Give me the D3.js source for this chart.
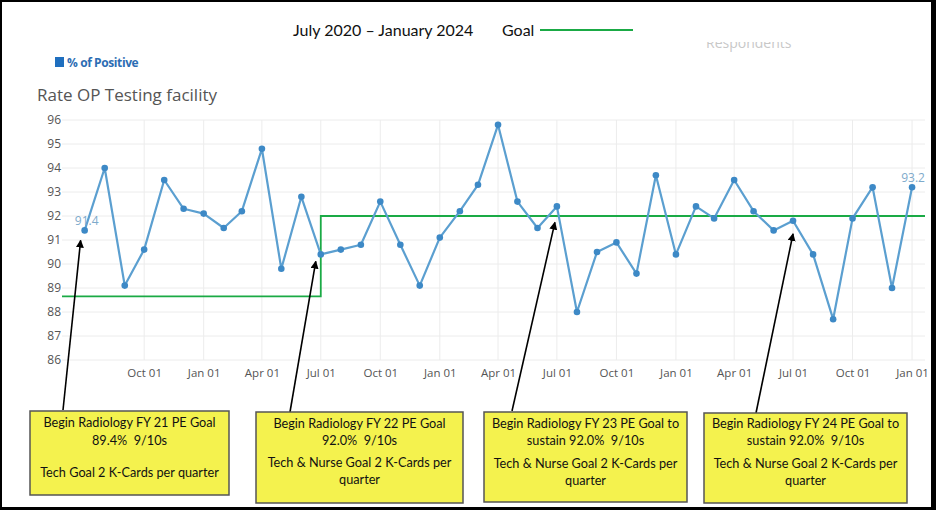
<!DOCTYPE html>
<html>
<head>
<meta charset="utf-8">
<script src="https://cdn.jsdelivr.net/npm/d3@7/dist/d3.min.js"></script>
<style>
  html, body { margin: 0; padding: 0; background: #fff; }
  svg { display: block; }
  text { white-space: pre; }
</style>
</head>
<body>
<svg id="chart" width="936" height="510"></svg>
<script>
// ---------------- DATA ----------------
const months = [
  "2020-07","2020-08","2020-09","2020-10","2020-11","2020-12",
  "2021-01","2021-02","2021-03","2021-04","2021-05","2021-06",
  "2021-07","2021-08","2021-09","2021-10","2021-11","2021-12",
  "2022-01","2022-02","2022-03","2022-04","2022-05","2022-06",
  "2022-07","2022-08","2022-09","2022-10","2022-11","2022-12",
  "2023-01","2023-02","2023-03","2023-04","2023-05","2023-06",
  "2023-07","2023-08","2023-09","2023-10","2023-11","2023-12",
  "2024-01"
];
const positiveRate = [
  91.4, 94.0, 89.1, 90.6, 93.5, 92.3,
  92.1, 91.5, 92.2, 94.8, 89.8, 92.8,
  90.4, 90.6, 90.8, 92.6, 90.8, 89.1,
  91.1, 92.2, 93.3, 95.8, 92.6, 91.5,
  92.4, 88.0, 90.5, 90.9, 89.6, 93.7,
  90.4, 92.4, 91.9, 93.5, 92.2, 91.4,
  91.8, 90.4, 87.7, 91.9, 93.2, 89.0,
  93.2
];
const goalDates = ["2020-05-27", "2021-07-01", "2024-01-21"];
const goalValues = [88.65, 92.0, 92.0];

const xTickLabels = ["2020-10","2021-01","2021-04","2021-07","2021-10","2022-01","2022-04",
                     "2022-07","2022-10","2023-01","2023-04","2023-07","2023-10","2024-01"];
const yTickValues = [86, 87, 88, 89, 90, 91, 92, 93, 94, 95, 96];
const labeledPoints = [0, 42];

const headerText = "July 2020 \u2013 January 2024";
const goalLabel = "Goal";
const legendLabel = "% of Positive";
const chartTitle = "Rate OP Testing facility";

const noteLines = [
  ["Begin Radiology FY 21 PE Goal", "89.4%  9/10s", "", "Tech Goal 2 K-Cards per quarter"],
  ["Begin Radiology FY 22 PE Goal", "92.0%  9/10s", "Tech & Nurse Goal 2 K-Cards per", "quarter"],
  ["Begin Radiology FY 23 PE Goal to", "sustain 92.0%  9/10s", "Tech & Nurse Goal 2 K-Cards per", "quarter"],
  ["Begin Radiology FY 24 PE Goal to", "sustain 92.0%  9/10s", "Tech & Nurse Goal 2 K-Cards per", "quarter"]
];
const noteTargets = [0, 12, 24, 36]; // index into months

// ---------------- LAYOUT ----------------
const W = 936, H = 510;
const plot = { left: 62, right: 925, top: 120, bottom: 360 };
const xDomain = ["2020-05-27", "2024-01-21"];
const noteBoxes = [
  { x: 30,  y: 411, w: 199, h: 84, lineY: [423, 441, 457, 473] },
  { x: 256, y: 412, w: 207, h: 91, lineY: [424, 441, 463, 480] },
  { x: 484, y: 412, w: 203, h: 90, lineY: [424, 441, 464, 481] },
  { x: 704, y: 413, w: 203, h: 90, lineY: [424, 441, 464, 481] }
];
const arrowBase = [[63, 410], [290, 412], [512, 411], [756, 413]];
const arrowTipOffset = [[-4, 10], [-5, 7], [-2, 16], [0, 13]];

const parseM = d3.timeParse("%Y-%m");
const parseD = d3.timeParse("%Y-%m-%d");
const series = months.map((m, i) => ({ date: parseM(m), value: positiveRate[i] }));
const goal = goalDates.map((d, i) => ({ date: parseD(d), value: goalValues[i] }));

const svg = d3.select("#chart");

// frame: black border
svg.append("rect").attr("x", 0).attr("y", 0).attr("width", W).attr("height", H).attr("fill", "#000");
svg.append("rect").attr("x", 2).attr("y", 2).attr("width", 929).attr("height", 505).attr("fill", "#fff");

const x = d3.scaleTime().domain(xDomain.map(parseD)).range([plot.left, plot.right]);
const y = d3.scaleLinear().domain([86, 96]).range([plot.bottom, plot.top]);

// gridlines
const grid = svg.append("g");
grid.selectAll("line.h").data(yTickValues).join("line")
  .attr("x1", plot.left).attr("x2", plot.right)
  .attr("y1", d => y(d)).attr("y2", d => y(d))
  .attr("stroke", "#ececec").attr("stroke-width", 1);
const xTicks = xTickLabels.map(parseM);
grid.selectAll("line.v").data(xTicks).join("line")
  .attr("x1", d => x(d)).attr("x2", d => x(d))
  .attr("y1", plot.top).attr("y2", plot.bottom)
  .attr("stroke", "#ececec").attr("stroke-width", 1);

// axes (labels only)
const yAxis = d3.axisLeft(y).tickValues(yTickValues).tickSize(0).tickPadding(1).tickFormat(d3.format("d"));
const gy = svg.append("g").attr("transform", `translate(${plot.left},0)`).call(yAxis);
gy.select(".domain").remove();
gy.selectAll("text").attr("font-family", "'Open Sans', sans-serif").attr("font-size", 12).attr("fill", "#555");

const xAxis = d3.axisBottom(x).tickValues(xTicks).tickSize(0).tickPadding(9).tickFormat(d3.timeFormat("%b %d"));
const gx = svg.append("g").attr("transform", `translate(0,${plot.bottom})`).call(xAxis);
gx.select(".domain").remove();
gx.selectAll("text").attr("font-family", "'Open Sans', sans-serif").attr("font-size", 11.5).attr("fill", "#555");

// goal step line
svg.append("path").datum(goal)
  .attr("fill", "none").attr("stroke", "#1aaa45").attr("stroke-width", 1.8)
  .attr("d", d3.line().x(d => x(d.date)).y(d => y(d.value)).curve(d3.curveStepAfter));

// series line
svg.append("path").datum(series)
  .attr("fill", "none").attr("stroke", "#5b9fd0").attr("stroke-width", 2.2)
  .attr("stroke-linejoin", "round")
  .attr("d", d3.line().x(d => x(d.date)).y(d => y(d.value)));
svg.append("g").selectAll("circle").data(series).join("circle")
  .attr("cx", d => x(d.date)).attr("cy", d => y(d.value)).attr("r", 3.3)
  .attr("fill", "#3d89c6");

// value labels
svg.append("g").selectAll("text").data(labeledPoints.map(i => series[i])).join("text")
  .attr("x", (d, i) => x(d.date) + (i === 0 ? 2 : 1))
  .attr("y", d => y(d.value) - 5)
  .attr("text-anchor", "middle")
  .attr("font-family", "'Open Sans', sans-serif").attr("font-size", 12)
  .attr("fill", "#7eaacb")
  .text(d => d.value.toFixed(1));

// header
svg.append("text").attr("x", 293).attr("y", 36)
  .attr("font-family", "Lato, sans-serif").attr("font-size", 16).attr("fill", "#111")
  .text(headerText);
svg.append("text").attr("x", 502).attr("y", 36)
  .attr("font-family", "Lato, sans-serif").attr("font-size", 16).attr("fill", "#111")
  .text(goalLabel);
svg.append("line").attr("x1", 540).attr("x2", 633).attr("y1", 30).attr("y2", 30)
  .attr("stroke", "#1aaa45").attr("stroke-width", 1.8);

// faint clipped "Respondents"
const defs = svg.append("defs");
defs.append("clipPath").attr("id", "respClip")
  .append("rect").attr("x", 690).attr("y", 42).attr("width", 120).attr("height", 10);
svg.append("text").attr("x", 706).attr("y", 48).attr("clip-path", "url(#respClip)")
  .attr("font-family", "'Open Sans', sans-serif").attr("font-size", 14).attr("fill", "#c8c8c8")
  .text("Respondents");

// legend
svg.append("rect").attr("x", 55).attr("y", 57).attr("width", 9).attr("height", 10).attr("fill", "#1f6fbf");
svg.append("text").attr("x", 67).attr("y", 67)
  .attr("font-family", "'Open Sans', sans-serif").attr("font-size", 12).attr("font-weight", "bold")
  .attr("fill", "#2c6db3").attr("letter-spacing", -0.4)
  .text(legendLabel);

// title
svg.append("text").attr("x", 37).attr("y", 101)
  .attr("font-family", "'Open Sans', sans-serif").attr("font-size", 17).attr("fill", "#555")
  .text(chartTitle);

// arrows
defs.append("marker").attr("id", "arrowHead")
  .attr("viewBox", "0 0 10 10").attr("refX", 9).attr("refY", 5)
  .attr("markerWidth", 8).attr("markerHeight", 8).attr("markerUnits", "userSpaceOnUse")
  .attr("orient", "auto")
  .append("path").attr("d", "M0,0 L10,5 L0,10 Z").attr("fill", "#000");
const arrows = svg.append("g");
noteTargets.forEach((idx, i) => {
  const d = series[idx];
  arrows.append("line")
    .attr("x1", arrowBase[i][0]).attr("y1", arrowBase[i][1])
    .attr("x2", x(d.date) + arrowTipOffset[i][0]).attr("y2", y(d.value) + arrowTipOffset[i][1])
    .attr("stroke", "#000").attr("stroke-width", 1.6)
    .attr("marker-end", "url(#arrowHead)");
});

// note boxes
const notes = svg.append("g");
noteBoxes.forEach((b, i) => {
  notes.append("rect").attr("x", b.x).attr("y", b.y).attr("width", b.w).attr("height", b.h)
    .attr("fill", "#f4f24e").attr("stroke", "#555").attr("stroke-width", 1.5);
  noteLines[i].forEach((t, j) => {
    if (!t) return;
    notes.append("text").attr("x", b.x + b.w / 2).attr("y", b.lineY[j])
      .attr("dy", "0.35em").attr("text-anchor", "middle")
      .attr("font-family", "Lato, sans-serif").attr("font-size", 12.7).attr("fill", "#111")
      .text(t);
  });
});
</script>
</body>
</html>
